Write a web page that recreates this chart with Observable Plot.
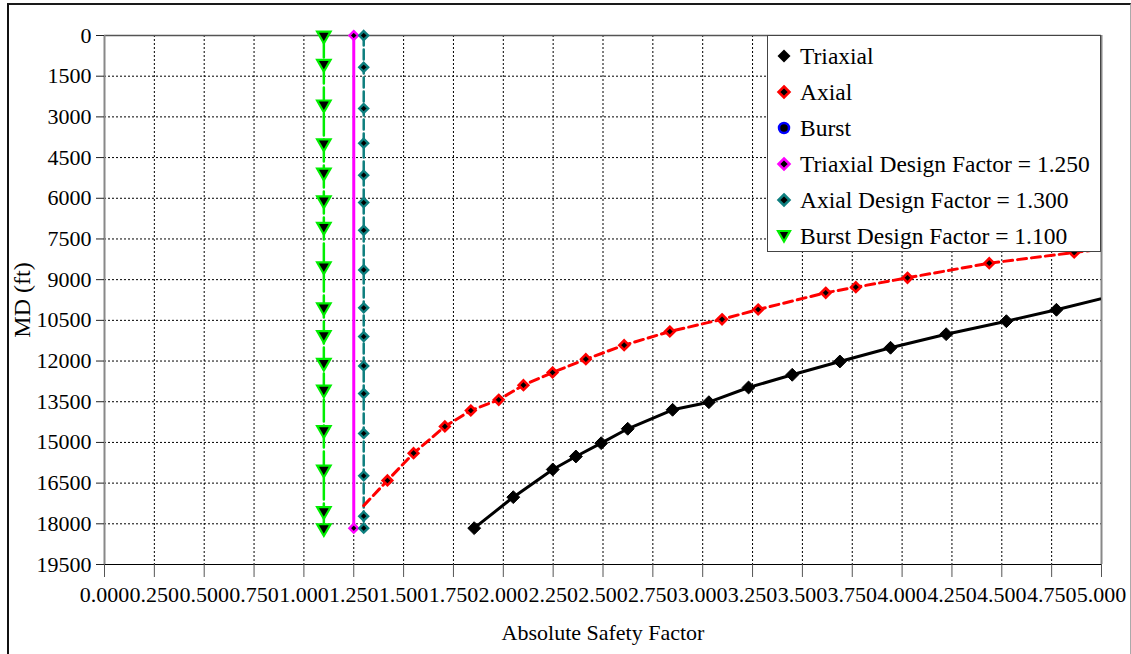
<!DOCTYPE html>
<html><head><meta charset="utf-8">
<script src="https://cdn.jsdelivr.net/npm/d3@7"></script>
<script src="https://cdn.jsdelivr.net/npm/@observablehq/plot@0.6"></script>
<style>
body{margin:0;background:#fff;}
#wrap{position:relative;width:1131px;height:654px;overflow:hidden;font-family:"Liberation Serif","Times New Roman",serif;background:#fff;}
#frame{position:absolute;left:7px;top:3px;width:1121px;height:700px;border-top:2px solid #1a1a1a;border-left:2px solid #111;border-right:1px solid #aaa;}
#chart{position:absolute;left:0;top:0;}
#legend{position:absolute;left:767px;top:35px;width:332px;height:215px;background:#fff;border:1.5px solid #444;}
.row{position:absolute;left:0;height:36px;display:flex;align-items:center;font-size:23.5px;color:#000;white-space:nowrap;}
.row svg{margin-left:6px;margin-right:6px;}
</style></head><body>
<div id="wrap"><div id="frame"></div><div id="chart"></div><div id="legend"></div></div>
<script>
// ---- data ----
const xTicks = [0, 0.25, 0.5, 0.75, 1, 1.25, 1.5, 1.75, 2, 2.25, 2.5, 2.75, 3, 3.25, 3.5, 3.75, 4, 4.25, 4.5, 4.75, 5];
const yTicks = [0, 1500, 3000, 4500, 6000, 7500, 9000, 10500, 12000, 13500, 15000, 16500, 18000, 19500];
const xTitle = "Absolute Safety Factor";
const yTitle = "MD (ft)";

const triaxialSF = [1.854, 2.050, 2.248, 2.364, 2.491, 2.624, 2.849, 3.031, 3.230, 3.449, 3.688, 3.942, 4.221, 4.523, 4.774, 5.3];
const triaxialMD = [18160, 17018, 15997, 15518, 15028, 14497, 13797, 13517, 12975, 12507, 12016, 11511, 11010, 10531, 10111, 9150];

const axialSF = [1.300, 1.419, 1.550, 1.707, 1.837, 1.977, 2.101, 2.247, 2.414, 2.606, 2.835, 3.097, 3.278, 3.617, 3.768, 4.027, 4.437, 4.863, 5.3];
const axialMD = [17330, 16403, 15396, 14412, 13823, 13428, 12890, 12422, 11932, 11416, 10911, 10461, 10100, 9484, 9278, 8931, 8393, 7999, 7600];

const triaxialDF = 1.25;
const triaxialDFMD = [0, 18160];
const axialDF = 1.3;
const axialDFMD = [0, 1170, 2690, 3970, 5150, 6160, 7180, 8640, 10040, 11100, 12180, 13200, 14670, 16230, 17720, 18160];
const burstDF = 1.1;
const burstDFMD = [0, 1040, 2540, 3970, 5050, 6070, 7050, 8510, 10020, 11040, 12060, 13050, 14540, 16000, 17530, 18160];

const legendLabels = ["Triaxial", "Axial", "Burst", "Triaxial Design Factor = 1.250", "Axial Design Factor = 1.300", "Burst Design Factor = 1.100"];

// ---- build ----
const triaxial = triaxialSF.map((x, i) => ({x, y: triaxialMD[i]}));
const axial = axialSF.map((x, i) => ({x, y: axialMD[i]}));
const axialMarks = axial.slice(1);

const triangleDown = {
  draw(ctx, size) {
    const a = Math.sqrt(4 * size / Math.sqrt(3));
    const h = a * Math.sqrt(3) / 2;
    ctx.moveTo(-a / 2, -h / 3);
    ctx.lineTo(a / 2, -h / 3);
    ctx.lineTo(0, 2 * h / 3);
    ctx.closePath();
  }
};

const FONT = "'Liberation Serif', 'Times New Roman', serif";
const chart = Plot.plot({
  width: 1131,
  height: 654,
  marginLeft: 104,
  marginRight: 30,
  marginTop: 35,
  marginBottom: 90,
  style: {fontFamily: FONT, fontSize: "22px", background: "transparent", color: "#000"},
  x: {domain: [0, 5]},
  y: {domain: [0, 19500], reverse: true},
  marks: [
    Plot.gridX(xTicks, {stroke: "#000", strokeOpacity: 1, strokeDasharray: "2,2", strokeWidth: 1}),
    Plot.gridY(yTicks, {stroke: "#000", strokeOpacity: 1, strokeDasharray: "2,2", strokeWidth: 1}),
    Plot.ruleY([0], {stroke: "#555", strokeWidth: 1.5}),
    Plot.ruleY([19500], {stroke: "#000", strokeWidth: 1}),
    Plot.ruleX([0], {stroke: "#888", strokeWidth: 2}),
    Plot.ruleX([5], {stroke: "#888", strokeWidth: 2}),
    Plot.axisY(yTicks, {anchor: "left", tickSize: 8, tickPadding: 5, tickFormat: d3.format("d"), stroke: "#222", fontSize: 22, fontFamily: FONT, label: null}),
    Plot.axisX(xTicks, {anchor: "bottom", tickSize: 13, tickPadding: 9, tickFormat: d3.format(".3f"), stroke: "#555", fontSize: 22, fontFamily: FONT, label: null}),
    Plot.text([yTitle], {frameAnchor: "left", rotate: -90, dx: -82, fontSize: 24, fontFamily: FONT, textAnchor: "middle", lineAnchor: "middle", fill: "#000"}),
    Plot.text([xTitle], {frameAnchor: "bottom", dy: 68, fontSize: 22, fontFamily: FONT, textAnchor: "middle", lineAnchor: "middle", fill: "#000"}),
    // design factor lines
    Plot.line(burstDFMD, {x: () => burstDF, y: d => d, stroke: "#00ee00", strokeWidth: 2.5, strokeDasharray: "22,4"}),
    Plot.line(triaxialDFMD, {x: () => triaxialDF, y: d => d, stroke: "#ff00ff", strokeWidth: 3}),
    Plot.line(axialDFMD, {x: () => axialDF, y: d => d, stroke: "#0e7f7f", strokeWidth: 2.5, strokeDasharray: "10,4"}),
    // safety factor curves
    Plot.line(axial, {x: "x", y: "y", stroke: "#ff0000", strokeWidth: 3, strokeDasharray: "9,5", clip: true}),
    Plot.line(triaxial, {x: "x", y: "y", stroke: "#000", strokeWidth: 3, clip: true}),
    // markers
    Plot.dot(burstDFMD, {x: () => burstDF, y: d => d, symbol: triangleDown, r: 5, fill: "#000", stroke: "#00ee00", strokeWidth: 2.2}),
    Plot.dot(triaxialDFMD, {x: () => triaxialDF, y: d => d, symbol: "diamond2", r: 3.9, fill: "#000", stroke: "#ff00ff", strokeWidth: 2.4}),
    Plot.dot(axialDFMD, {x: () => axialDF, y: d => d, symbol: "diamond2", r: 4, fill: "#000", stroke: "#0e7f7f", strokeWidth: 2.4}),
    Plot.dot(axialMarks, {x: "x", y: "y", symbol: "diamond2", r: 4.3, fill: "#000", stroke: "#ff0000", strokeWidth: 2.6, clip: true}),
    Plot.dot(triaxial, {x: "x", y: "y", symbol: "diamond2", r: 5.8, fill: "#000", stroke: "#000", strokeWidth: 1, clip: true})
  ]
});
document.getElementById("chart").appendChild(chart);

// ---- legend ----
const icons = [
  `<polygon points="10,3.5 16.5,10 10,16.5 3.5,10" fill="#000"/>`,
  `<polygon points="10,4.5 15.5,10 10,15.5 4.5,10" fill="#000" stroke="#ff0000" stroke-width="2.5"/>`,
  `<circle cx="10" cy="10" r="5" fill="#000" stroke="#0000ff" stroke-width="2.5"/>`,
  `<polygon points="10,4.5 15.5,10 10,15.5 4.5,10" fill="#000" stroke="#ff00ff" stroke-width="2.5"/>`,
  `<polygon points="10,4.5 15.5,10 10,15.5 4.5,10" fill="#000" stroke="#0e7f7f" stroke-width="2.5"/>`,
  `<polygon points="4,5 16,5 10,15.5" fill="#000" stroke="#00ee00" stroke-width="2.2"/>`
];
const legend = document.getElementById("legend");
legendLabels.forEach((lab, i) => {
  const row = document.createElement("div");
  row.className = "row";
  row.style.top = (2 + 36 * i) + "px";
  row.innerHTML = `<svg width="20" height="20" viewBox="0 0 20 20">${icons[i]}</svg>`;
  const span = document.createElement("span");
  span.textContent = lab;
  row.appendChild(span);
  legend.appendChild(row);
});
</script>
</body></html>
